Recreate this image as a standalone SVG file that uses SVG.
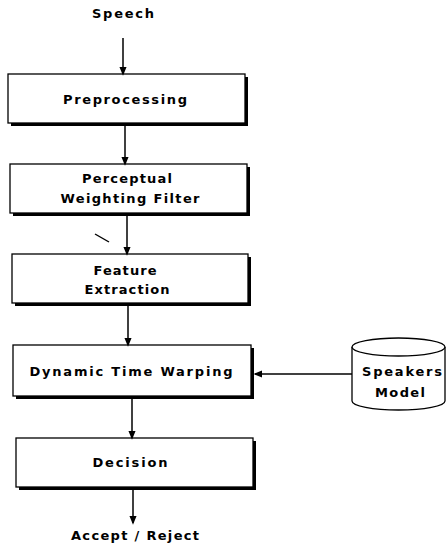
<svg xmlns="http://www.w3.org/2000/svg" width="447" height="545" viewBox="0 0 447 545">
<style>
.box{fill:#fff;stroke:#000;stroke-width:1.3}
.sh{fill:#000}
.t{font-family:"DejaVu Sans","Liberation Sans",sans-serif;font-weight:bold;font-size:13px;fill:#000;text-anchor:middle}
.ln{stroke:#000;stroke-width:1.5;fill:none}
</style>
<defs>
<marker id="ah" markerWidth="9" markerHeight="11" refX="9" refY="4.5" orient="auto" markerUnits="userSpaceOnUse" viewBox="0 0 11 9">
<path d="M0,0 L11,4.5 L0,9 Z" fill="#000"/>
</marker>
</defs>
<rect width="447" height="545" fill="#fff"/>
<text class="t" x="123" y="18" textLength="62" lengthAdjust="spacing">Speech</text>
<g id="preprocessing">
<rect class="sh" x="11" y="77" width="237" height="49"/>
<rect class="box" x="8" y="74" width="237" height="49"/>
<text class="t" x="125" y="104" textLength="124" lengthAdjust="spacing">Preprocessing</text>
</g>
<g id="perceptual">
<rect class="sh" x="13" y="167" width="237" height="49"/>
<rect class="box" x="10" y="164" width="237" height="49"/>
<text class="t" x="127" y="183" textLength="90" lengthAdjust="spacing">Perceptual</text>
<text class="t" x="130" y="203" textLength="139" lengthAdjust="spacing">Weighting Filter</text>
</g>
<g id="feature">
<rect class="sh" x="15" y="257" width="236" height="49"/>
<rect class="box" x="12" y="254" width="236" height="49"/>
<text class="t" x="125" y="275" textLength="63" lengthAdjust="spacing">Feature</text>
<text class="t" x="127" y="294" textLength="85" lengthAdjust="spacing">Extraction</text>
</g>
<g id="dtw">
<rect class="sh" x="16" y="348" width="238" height="51"/>
<rect class="box" x="13" y="345" width="238" height="51"/>
<text class="t" x="131" y="376" textLength="203" lengthAdjust="spacing">Dynamic Time Warping</text>
</g>
<g id="decision">
<rect class="sh" x="19" y="441" width="237" height="49"/>
<rect class="box" x="16" y="438" width="237" height="49"/>
<text class="t" x="130" y="467" textLength="75" lengthAdjust="spacing">Decision</text>
</g>
<g id="speakers-model">
<path d="M352,347 L352,401 A46.5,9 0 0 0 445,401 L445,347" fill="#fff" stroke="#000" stroke-width="1.3"/>
<ellipse cx="398.5" cy="347" rx="46.5" ry="9" fill="#fff" stroke="#000" stroke-width="1.3"/>
<text class="t" x="402" y="376" textLength="80" lengthAdjust="spacing">Speakers</text>
<text class="t" x="400" y="397" textLength="50" lengthAdjust="spacing">Model</text>
</g>
<text class="t" x="135" y="540" textLength="128" lengthAdjust="spacing">Accept / Reject</text>
<g id="connectors">
<line class="ln" x1="123" y1="38" x2="123" y2="74" marker-end="url(#ah)"/>
<line class="ln" x1="125" y1="126" x2="125" y2="164" marker-end="url(#ah)"/>
<line class="ln" x1="127" y1="216" x2="127" y2="254" marker-end="url(#ah)"/>
<line class="ln" x1="128" y1="306" x2="128" y2="345" marker-end="url(#ah)"/>
<line class="ln" x1="132" y1="399" x2="132" y2="438" marker-end="url(#ah)"/>
<line class="ln" x1="133" y1="490" x2="133" y2="523" marker-end="url(#ah)"/>
<line class="ln" x1="352" y1="374" x2="255" y2="374" marker-end="url(#ah)"/>
</g>
<path d="M95,234 L109,242" fill="none" stroke="#000" stroke-width="1.4"/>
</svg>
